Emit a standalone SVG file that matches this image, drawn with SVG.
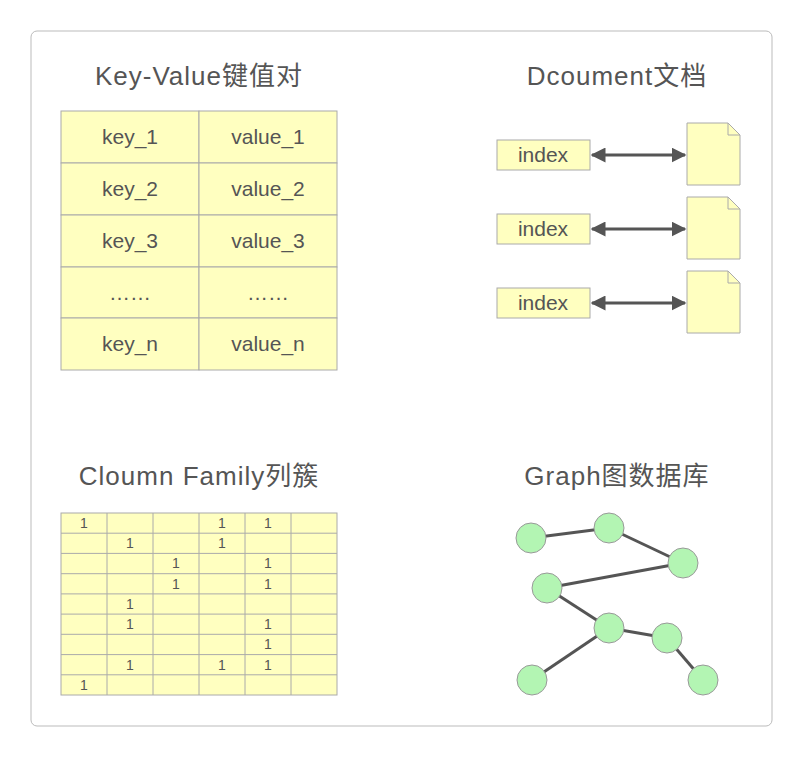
<svg xmlns="http://www.w3.org/2000/svg" width="802" height="757" viewBox="0 0 802 757">
<style>
.t{font-family:"Liberation Sans","Noto Sans CJK SC",sans-serif;fill:#555;text-anchor:middle}
.h{font-size:26px;letter-spacing:1px}
.c{fill:#ffffc0;stroke:#aaa;stroke-width:1}
.s{font-size:21px}
.n{font-size:14px}
.e{stroke:#555;stroke-width:3}
.g{fill:#b3f5b3;stroke:#999;stroke-width:1}
</style>
<defs><marker id="a" viewBox="0 0 10 10" refX="9" refY="5" markerWidth="5" markerHeight="5" orient="auto-start-reverse"><path d="M0,0L10,5L0,10z" fill="#555"/></marker></defs>
<rect x="31" y="31" width="741" height="695" rx="6" fill="#fff" stroke="#bbb"/>
<text class="t h" x="199" y="85">Key-Value键值对</text>
<text class="t h" x="617" y="85">Dcoument文档</text>
<text class="t h" x="199" y="485">Cloumn Family列簇</text>
<text class="t h" x="617" y="485">Graph图数据库</text>
<g id="kv">
<rect class="c" x="61" y="111" width="138" height="52"/><rect class="c" x="199" y="111" width="138" height="52"/>
<rect class="c" x="61" y="163" width="138" height="52"/><rect class="c" x="199" y="163" width="138" height="52"/>
<rect class="c" x="61" y="215" width="138" height="52"/><rect class="c" x="199" y="215" width="138" height="52"/>
<rect class="c" x="61" y="267" width="138" height="51"/><rect class="c" x="199" y="267" width="138" height="51"/>
<rect class="c" x="61" y="318" width="138" height="52"/><rect class="c" x="199" y="318" width="138" height="52"/>
<text class="t s" x="130" y="144">key_1</text><text class="t s" x="268" y="144">value_1</text>
<text class="t s" x="130" y="196">key_2</text><text class="t s" x="268" y="196">value_2</text>
<text class="t s" x="130" y="248">key_3</text><text class="t s" x="268" y="248">value_3</text>
<text class="t s" x="130" y="300">……</text><text class="t s" x="268" y="300">……</text>
<text class="t s" x="130" y="351">key_n</text><text class="t s" x="268" y="351">value_n</text>
</g>
<g id="doc">
<rect class="c" x="497" y="140" width="93" height="30"/><rect class="c" x="497" y="214" width="93" height="30"/><rect class="c" x="497" y="288" width="93" height="30"/>
<text class="t s" x="543" y="162">index</text><text class="t s" x="543" y="236">index</text><text class="t s" x="543" y="310">index</text>
<path class="c" d="M687,123H728L740,135V185H687Z"/><path d="M728,123V135H740" fill="none" stroke="#aaa"/>
<path class="c" d="M687,197H728L740,209V259H687Z"/><path d="M728,197V209H740" fill="none" stroke="#aaa"/>
<path class="c" d="M687,271H728L740,283V333H687Z"/><path d="M728,271V283H740" fill="none" stroke="#aaa"/>
</g>
<g id="connectors">
<line class="e" x1="592" y1="155" x2="685" y2="155" marker-start="url(#a)" marker-end="url(#a)"/>
<line class="e" x1="592" y1="229" x2="685" y2="229" marker-start="url(#a)" marker-end="url(#a)"/>
<line class="e" x1="592" y1="303" x2="685" y2="303" marker-start="url(#a)" marker-end="url(#a)"/>
<line class="e" x1="531" y1="538" x2="609" y2="528"/>
<line class="e" x1="609" y1="528" x2="683" y2="563"/>
<line class="e" x1="683" y1="563" x2="547" y2="588"/>
<line class="e" x1="547" y1="588" x2="609" y2="628"/>
<line class="e" x1="609" y1="628" x2="667" y2="638"/>
<line class="e" x1="667" y1="638" x2="703" y2="680"/>
<line class="e" x1="609" y1="628" x2="532" y2="680"/>
</g>
<g id="cf">
<rect class="c" x="61" y="513" width="276" height="182"/>
<path d="M107,513V695M153,513V695M199,513V695M245,513V695M291,513V695M61,533.2H337M61,553.4H337M61,573.7H337M61,593.9H337M61,614.1H337M61,634.3H337M61,654.6H337M61,674.8H337" stroke="#aaa" fill="none"/>
<g class="t n">
<text x="84" y="528">1</text><text x="222" y="528">1</text><text x="268" y="528">1</text>
<text x="130" y="548">1</text><text x="222" y="548">1</text>
<text x="176" y="568">1</text><text x="268" y="568">1</text>
<text x="176" y="589">1</text><text x="268" y="589">1</text>
<text x="130" y="609">1</text>
<text x="130" y="629">1</text><text x="268" y="629">1</text>
<text x="268" y="649">1</text>
<text x="130" y="670">1</text><text x="222" y="670">1</text><text x="268" y="670">1</text>
<text x="84" y="690">1</text>
</g>
</g>
<g id="graph">
<circle class="g" cx="531" cy="538" r="15"/><circle class="g" cx="609" cy="528" r="15"/><circle class="g" cx="683" cy="563" r="15"/><circle class="g" cx="547" cy="588" r="15"/><circle class="g" cx="609" cy="628" r="15"/><circle class="g" cx="667" cy="638" r="15"/><circle class="g" cx="532" cy="680" r="15"/><circle class="g" cx="703" cy="680" r="15"/>
</g>
</svg>
